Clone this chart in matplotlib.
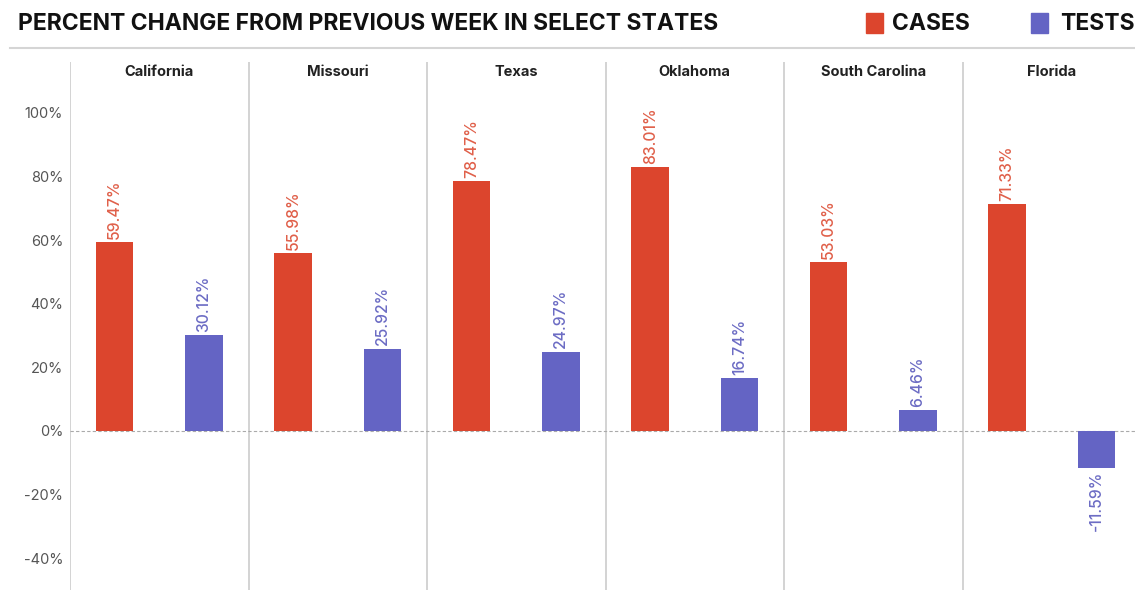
import matplotlib
matplotlib.use("Agg")
import matplotlib.pyplot as plt
from matplotlib.patches import Rectangle

states = ["California", "Missouri", "Texas", "Oklahoma", "South Carolina", "Florida"]
cases = [59.47, 55.98, 78.47, 83.01, 53.03, 71.33]
tests = [30.12, 25.92, 24.97, 16.74, 6.46, -11.59]
yticks = [-40, -20, 0, 20, 40, 60, 80, 100]

RED = "#dc452d"
BLUE = "#6464c4"
RED_T = "#e0604a"
BLUE_T = "#6c6cc4"

W, H = 1135, 590
fig = plt.figure(figsize=(W / 100, H / 100), dpi=100)
fig.patch.set_facecolor("white")

ax = fig.add_axes([70 / W, 0, (W - 70) / W, (590 - 62) / H])
ax.set_xlim(0, (W - 70) / 178.5)
ax.set_ylim(-50, 116)
for s in ax.spines.values():
    s.set_visible(False)
ax.set_xticks([])
ax.set_yticks(yticks)
ax.set_yticklabels([f"{v}%" for v in yticks], fontsize=10.5, color="#555555", family="Inter")
ax.tick_params(axis="y", length=0, pad=5)

ax.axhline(0, color="#aaaaaa", lw=0.8, ls=(0, (3, 2)), zorder=1)

bw = 0.21
for i, st in enumerate(states):
    ax.axvline(i, color="#cccccc", lw=1.2, zorder=0)
    ax.text(i + 0.5, 112.7, st, ha="center", va="center", fontsize=10.5,
            fontweight="bold", color="#222222", family="Inter")
    xc, xt = i + 0.25, i + 0.75
    ax.bar(xc, cases[i], width=bw, color=RED, zorder=2)
    ax.bar(xt, tests[i], width=bw, color=BLUE, zorder=2)
    ax.text(xc, cases[i] + 1.0, f"{cases[i]:.2f}%", rotation=90, ha="center",
            va="bottom", fontsize=11.3, fontweight="medium", color=RED_T, family="Inter")
    if tests[i] >= 0:
        ax.text(xt, tests[i] + 1.0, f"{tests[i]:.2f}%", rotation=90, ha="center",
                va="bottom", fontsize=11.3, fontweight="medium", color=BLUE_T, family="Inter")
    else:
        ax.text(xt, tests[i] - 1.0, f"{tests[i]:.2f}%", rotation=90, ha="center",
                va="top", fontsize=11.3, fontweight="medium", color=BLUE_T, family="Inter")

# Header
HF = dict(fontsize=16.5, fontweight="bold", color="#111111", family="Inter", va="center", ha="left")
fig.text(18 / W, 1 - 24 / H, "PERCENT CHANGE FROM PREVIOUS WEEK IN SELECT STATES", **HF)
fig.add_artist(plt.Line2D([10 / W, 1], [1 - 48 / H, 1 - 48 / H], color="#d5d5d5", lw=1.5))

fig.add_artist(Rectangle((866 / W, 1 - 33 / H), 17 / W, 20 / H, color=RED, transform=fig.transFigure))
fig.text(892 / W, 1 - 24 / H, "CASES", **HF)
fig.add_artist(Rectangle((1031 / W, 1 - 33 / H), 17 / W, 20 / H, color=BLUE, transform=fig.transFigure))
fig.text(1060 / W, 1 - 24 / H, "TESTS", **HF)

fig.savefig("out.png", dpi=100)
